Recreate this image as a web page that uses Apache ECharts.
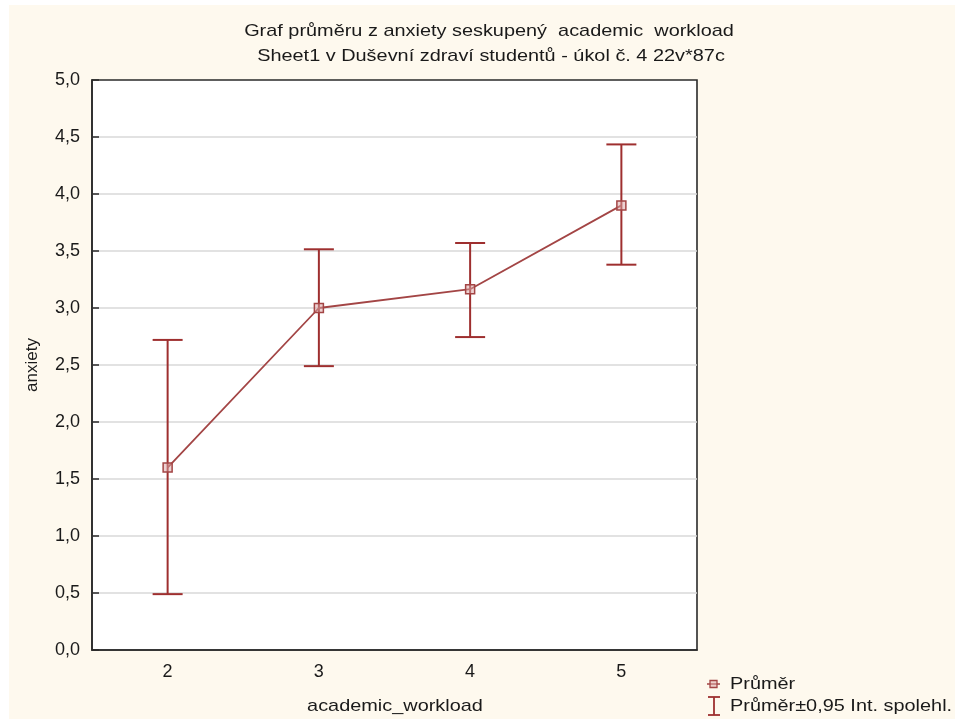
<!DOCTYPE html>
<html>
<head>
<meta charset="utf-8">
<script src="https://cdn.jsdelivr.net/npm/echarts@6/dist/echarts.min.js"></script>
<style>
html,body{margin:0;padding:0;background:#fff;}
#chart{width:955px;height:719px;}
</style>
</head>
<body>
<div id="chart"></div>
<script>
// Data
var categories = ['2', '3', '4', '5'];
var means = [1.60, 3.00, 3.165, 3.90];
var ciLower = [0.49, 2.49, 2.745, 3.38];
var ciUpper = [2.72, 3.515, 3.57, 4.435];
var yTicks = { min: 0, max: 5, interval: 0.5 };
var titleLines = ['Graf průměru z anxiety seskupený  academic  workload',
                  'Sheet1 v Duševní zdraví studentů - úkol č. 4 22v*87c'];
var xName = 'academic_workload';
var yName = 'anxiety';
var legendNames = ['Průměr', 'Průměr±0,95 Int. spolehl.'];

var RED = '#9e2f2f';
var LINE = '#a34545';
var TXT = '#1a1a1a';
var FONT = '"Liberation Sans", Arial, sans-serif';
var F17 = '17px "Liberation Sans", Arial, sans-serif';
var SX = 1.17; // horizontal stretch of the reference's text

var errData = categories.map(function (c, i) { return [i, ciLower[i], ciUpper[i]]; });

function txt(x, y, s, align) {
  return { type: 'text', x: x, y: y, scaleX: SX, z: 10,
    style: { x: 0, y: 0, text: s, font: F17, fill: TXT, align: align || 'center', verticalAlign: 'middle' } };
}

var chart = echarts.init(document.getElementById('chart'), null, { renderer: 'canvas' });
chart.setOption({
  backgroundColor: '#fef9ee',
  animation: false,
  textStyle: { fontFamily: FONT, color: TXT },
  grid: {
    left: 92, top: 80, width: 605, height: 570,
    show: true, backgroundColor: '#ffffff', borderColor: '#2a2a2a', borderWidth: 1.6
  },
  xAxis: {
    type: 'category', data: categories, boundaryGap: true,
    axisLine: { lineStyle: { color: '#2a2a2a', width: 1.6 } },
    axisTick: { inside: true, alignWithLabel: true, length: 5, lineStyle: { color: '#2a2a2a', width: 1.5 } },
    axisLabel: { margin: 13, fontFamily: FONT, fontSize: 18, color: TXT },
    splitLine: { show: false }
  },
  yAxis: {
    type: 'value', min: yTicks.min, max: yTicks.max, interval: yTicks.interval,
    name: yName, nameLocation: 'middle', nameGap: 51, nameRotate: 90,
    nameTextStyle: { fontFamily: FONT, fontSize: 17, color: TXT },
    axisLine: { show: true, lineStyle: { color: '#2a2a2a', width: 1.6 } },
    axisTick: { show: true, inside: true, length: 7, lineStyle: { color: '#2a2a2a', width: 1.5 } },
    axisLabel: { margin: 12, fontFamily: FONT, fontSize: 18, color: TXT,
      formatter: function (v) { return v.toFixed(1).replace('.', ','); } },
    splitLine: { show: true, showMinLine: false, showMaxLine: false, lineStyle: { color: '#d9d9d9', width: 1.5 } }
  },
  series: [
    {
      type: 'custom', name: legendNames[1],
      data: errData,
      encode: { x: 0, y: [1, 2] },
      z: 3,
      renderItem: function (params, api) {
        var x = api.value(0);
        var lo = api.coord([x, api.value(1)]);
        var hi = api.coord([x, api.value(2)]);
        var hw = 15;
        var st = { stroke: RED, lineWidth: 2, fill: null };
        return {
          type: 'group',
          children: [
            { type: 'line', shape: { x1: lo[0], y1: lo[1], x2: hi[0], y2: hi[1] }, style: st },
            { type: 'line', shape: { x1: hi[0] - hw, y1: hi[1], x2: hi[0] + hw, y2: hi[1] }, style: st },
            { type: 'line', shape: { x1: lo[0] - hw, y1: lo[1], x2: lo[0] + hw, y2: lo[1] }, style: st }
          ]
        };
      }
    },
    {
      type: 'line', name: legendNames[0], data: means, z: 4,
      symbol: 'rect', symbolSize: 9,
      lineStyle: { color: LINE, width: 1.8 },
      itemStyle: { color: 'rgba(220,165,165,0.5)', borderColor: LINE, borderWidth: 1.5 }
    }
  ],
  graphic: [
    { type: 'rect', shape: { x: 0, y: 0, width: 9, height: 719 }, style: { fill: '#ffffff' }, silent: true },
    { type: 'rect', shape: { x: 0, y: 0, width: 955, height: 5 }, style: { fill: '#ffffff' }, silent: true },
    txt(489, 31, titleLines[0]),
    txt(491, 56, titleLines[1]),
    txt(395, 706, xName),
    // legend: mean
    { type: 'line', shape: { x1: 707, y1: 684, x2: 720, y2: 684 }, style: { stroke: LINE, lineWidth: 1.5 } },
    { type: 'rect', shape: { x: 710, y: 680.5, width: 7, height: 7 }, style: { fill: 'rgba(220,165,165,0.5)', stroke: LINE, lineWidth: 1.3 } },
    txt(730, 684, legendNames[0], 'left'),
    // legend: CI
    { type: 'line', shape: { x1: 714, y1: 697, x2: 714, y2: 715 }, style: { stroke: RED, lineWidth: 1.8 } },
    { type: 'line', shape: { x1: 708, y1: 697, x2: 720, y2: 697 }, style: { stroke: RED, lineWidth: 1.8 } },
    { type: 'line', shape: { x1: 708, y1: 715, x2: 720, y2: 715 }, style: { stroke: RED, lineWidth: 1.8 } },
    txt(730, 706, legendNames[1], 'left')
  ]
});
</script>
</body>
</html>
